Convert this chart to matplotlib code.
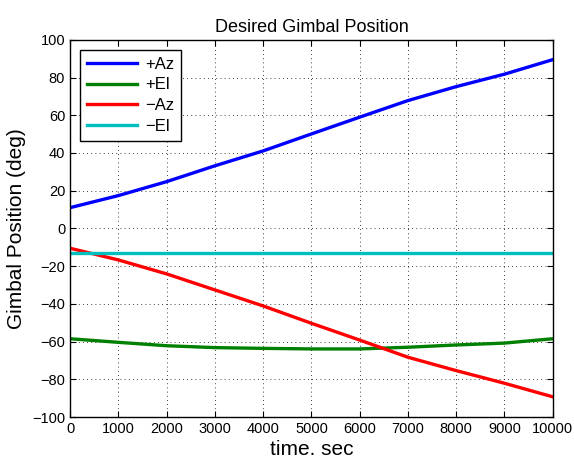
import matplotlib
matplotlib.use('Agg')
import matplotlib.pyplot as plt

# Data
time_sec = [0, 1000, 2000, 3000, 4000, 5000, 6000, 7000, 8000, 9000, 10000]
plus_az = [11.0, 17.4, 24.8, 33.2, 41.1, 50.1, 59.0, 67.8, 75.2, 81.8, 89.5]
plus_el = [-58.5, -60.4, -62.2, -63.2, -63.6, -63.9, -63.9, -63.0, -61.8, -60.8, -58.5]
minus_az = [-10.5, -16.7, -24.1, -32.6, -41.1, -50.3, -59.2, -68.3, -75.4, -82.1, -89.3]
minus_el = [-13.2] * len(time_sec)

plt.rcParams['font.family'] = ['Liberation Sans', 'DejaVu Sans']

fig = plt.figure(figsize=(5.74, 4.58), dpi=100)
ax = fig.add_axes([0.122, 0.0895, 0.841, 0.8235])

ax.plot(time_sec, plus_az, color=(0, 0, 1), lw=2.4, label='+Az')
ax.plot(time_sec, plus_el, color=(0, 0.5, 0), lw=2.4, label='+El')
ax.plot(time_sec, minus_az, color=(1, 0, 0), lw=2.4, label='\u2212Az')
ax.plot(time_sec, minus_el, color=(0, 0.75, 0.75), lw=2.4, label='\u2212El')

ax.set_xlim(0, 10000)
ax.set_ylim(-100, 100)
ax.set_xticks(range(0, 10001, 1000))
ax.set_yticks(range(-100, 101, 20))
ax.grid(True, linestyle=(0, (1, 4)), color='black', linewidth=0.6)
ax.tick_params(direction='in', top=True, right=True, labelsize=10.5, length=4)
for s in ax.spines.values():
    s.set_linewidth(1.0)

ax.set_title('Desired Gimbal Position', fontsize=13)
ax.set_xlabel('time. sec', fontsize=15, labelpad=3)
ax.set_ylabel('Gimbal Position (deg)', fontsize=15)

leg = ax.legend(loc='upper left', fontsize=12, fancybox=False, framealpha=1,
                edgecolor='black', handlelength=3.0, borderaxespad=0.6,
                labelspacing=0.35, handletextpad=0.5)
leg.get_frame().set_linewidth(1.0)

fig.savefig('out.png', dpi=100)
